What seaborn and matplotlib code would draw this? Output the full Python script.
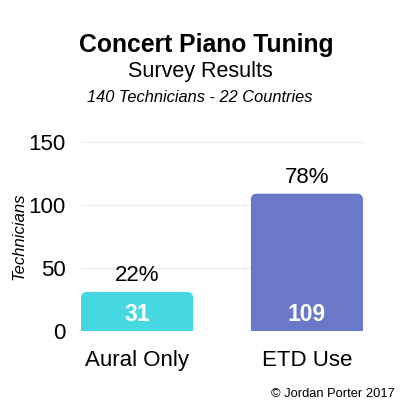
import seaborn as sns
import matplotlib.pyplot as plt
from matplotlib.patches import FancyBboxPatch

# Survey data
methods = ['Aural Only', 'ETD Use']
technicians = [31, 109]
percents = ['22%', '78%']
bar_colors = ['#45D8E2', '#6978C7']
y_ticks = [0, 50, 100, 150]

sns.set_style('white')
plt.rcParams['font.family'] = ['Liberation Sans', 'DejaVu Sans']
plt.rcParams['text.color'] = 'black'

fig = plt.figure(figsize=(4, 4), dpi=100)
ax = fig.add_axes([0.2025, 0.1725, 0.705, 0.4725])

sns.barplot(x=methods, y=technicians, hue=methods, palette=bar_colors,
            width=0.66, legend=False, saturation=1, ax=ax)

ax.set_xlim(-0.33, 1.33)
ax.set_ylim(0, 150)
ax.set_yticks(y_ticks)
ax.yaxis.grid(True, color='#ececec', linewidth=0.8)
ax.set_axisbelow(True)
sns.despine(ax=ax, left=True, bottom=True)
ax.tick_params(axis='both', length=0, labelsize=16, colors='black')
ax.tick_params(axis='y', pad=11)
ax.tick_params(axis='x', pad=14)
ax.set_ylabel('Technicians', fontsize=12, style='italic', color='black')
ax.yaxis.set_label_coords(-0.194, 0.5)

# rounded tops: shrink the seaborn bar, put a rounded box over it
r_x = 0.035
aspect = 135
for bar, color in zip(list(ax.patches), bar_colors):
    x0, w, h = bar.get_x(), bar.get_width(), bar.get_height()
    rounded = FancyBboxPatch((x0, 0), w, h,
                             boxstyle=f'round,pad=0,rounding_size={r_x}',
                             mutation_aspect=aspect, facecolor=color,
                             edgecolor='none', zorder=2)
    ax.add_patch(rounded)
    bar.set_height(h / 2)
    bar.set_edgecolor('none')

for i, (v, p) in enumerate(zip(technicians, percents)):
    ax.annotate(p, (i, v), xytext=(0, 4), textcoords='offset points',
                ha='center', va='bottom', fontsize=16)
    ax.annotate(str(v), (i, 0), xytext=(0, 12), textcoords='offset points',
                ha='center', va='center', fontsize=16.5, fontweight='bold',
                color='white', zorder=3)

fig.text(0.515, 0.887, 'Concert Piano Tuning', ha='center', va='center',
         fontsize=17.8, fontweight='bold')
fig.text(0.5, 0.822, 'Survey Results', ha='center', va='center', fontsize=15.5)
fig.text(0.5, 0.755, '140 Technicians - 22 Countries', ha='center',
         va='center', fontsize=11.8, style='italic')
fig.text(0.988, 0.016, '\u00a9 Jordan Porter 2017', ha='right', va='center',
         fontsize=9.3)

fig.savefig('out.png', dpi=100, facecolor='white')
